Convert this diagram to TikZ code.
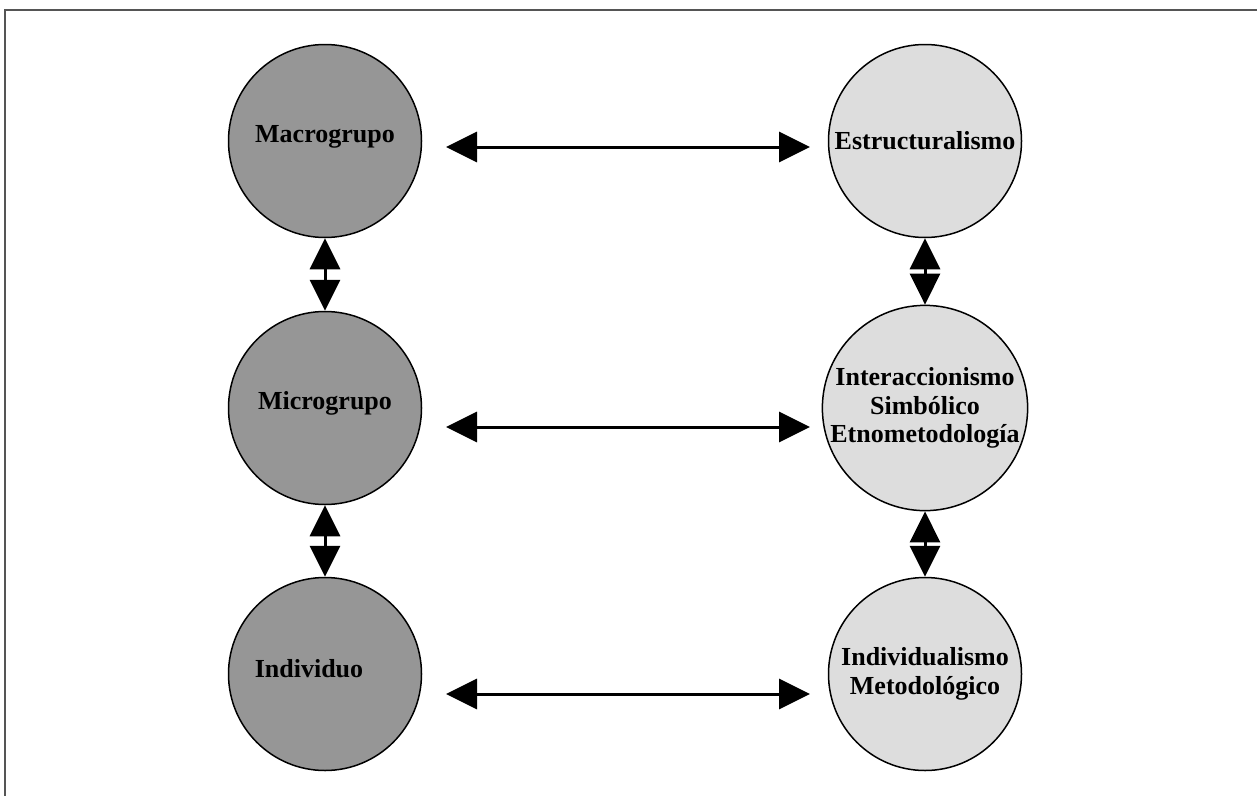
\documentclass[tikz,border=0pt]{standalone}
\usepackage{fontspec}
\setmainfont{Liberation Serif}
\usetikzlibrary{arrows.meta}
\definecolor{darkfill}{RGB}{150,150,150}
\definecolor{lightfill}{RGB}{221,221,221}
\definecolor{framegray}{RGB}{85,85,85}
\tikzset{
  level/.style={circle, draw=black, line width=1.5pt, minimum size=193pt, inner sep=0pt,
    align=center, font=\bfseries\fontsize{26}{28.5}\selectfont},
  macro/.style={level, fill=darkfill},
  theory/.style={level, fill=lightfill},
  tag/.style={font=\bfseries\fontsize{26}{28.5}\selectfont},
  link/.style={line width=3pt, {Triangle[length=31pt,width=30pt]}-{Triangle[length=31pt,width=30pt]}}
}
\begin{document}
\begin{tikzpicture}[x=1pt, y=-1pt]
  \useasboundingbox (0,0) rectangle (1257,795);
  % outer frame, running off the right and bottom edges
  \draw[framegray, line width=2pt] (1262,10) -- (5,10) -- (5,800);

  % left column: levels of social analysis
  \node[macro, label={[tag, yshift=4pt]center:Macrogrupo}] (mac) at (325,141) {};
  \node[macro, label={[tag, yshift=5pt]center:Microgrupo}] (mic) at (325,408) {};
  \node[macro, label={[tag, xshift=-16pt, yshift=5pt]center:Individuo}] (ind) at (325,674) {};

  % right column: theoretical approaches
  \node[theory] (est) at (925,141) {Estructuralismo};
  \node[theory] (int) at (925,408) {Interaccionismo\\Simbólico\\Etnometodología};
  \node[theory] (met) at (925,674) {Individualismo\\Metodológico};

  % vertical links between levels
  \draw[link] (mac.south) -- (mic.north);
  \draw[link] (mic.south) -- (ind.north);
  \draw[link] (est.south) -- (int.north);
  \draw[link] (int.south) -- (met.north);

  % horizontal links between columns
  \coordinate (h1a) at (446,147);  \coordinate (h1b) at (810,147);
  \coordinate (h2a) at (446,427);  \coordinate (h2b) at (810,427);
  \coordinate (h3a) at (446,694);  \coordinate (h3b) at (810,694);
  \draw[link] (h1a) -- (h1b);
  \draw[link] (h2a) -- (h2b);
  \draw[link] (h3a) -- (h3b);
\end{tikzpicture}
\end{document}
